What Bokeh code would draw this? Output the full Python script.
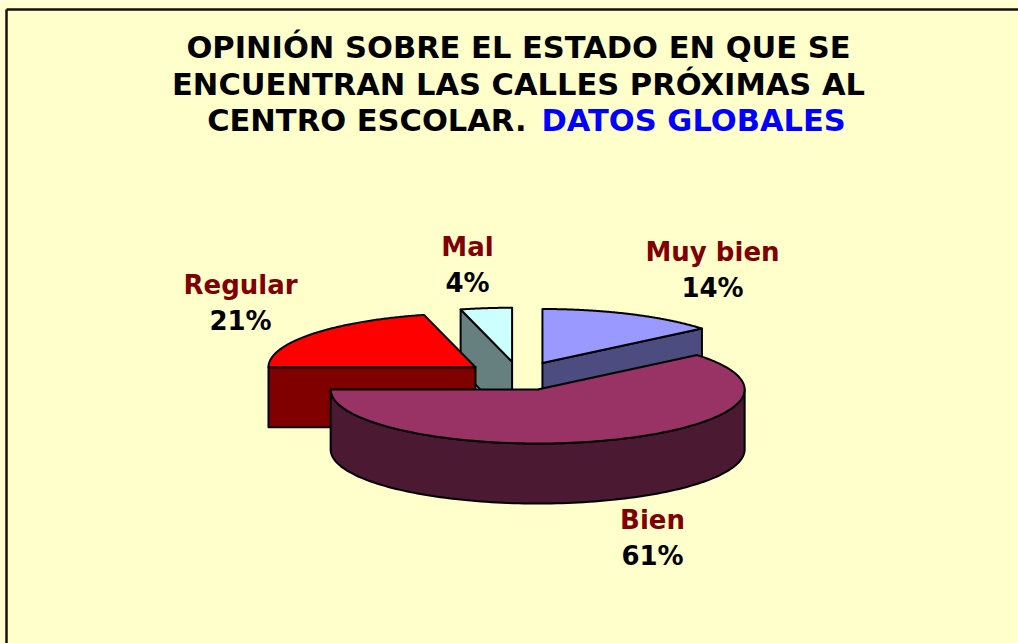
import numpy as np
from bokeh.plotting import figure
from bokeh.models import Range1d, ColumnDataSource
from bokeh.embed import file_html
from bokeh.resources import INLINE
from bokeh.core.properties import value

# ---------------- data ----------------
categories = ["Muy bien", "Bien", "Regular", "Mal"]
values = [14, 61, 21, 4]
title_lines = ["OPINIÓN SOBRE EL ESTADO EN QUE SE",
               "ENCUENTRAN LAS CALLES PRÓXIMAS AL",
               "CENTRO ESCOLAR."]
title_highlight = "DATOS GLOBALES"

# ---------------- styles / layout ----------------
top_colors = ["#9999FF", "#993366", "#FF0000", "#CCFFFF"]
side_colors = ["#4C4C80", "#4C1933", "#800000", "#668080"]
BG = "#FFFFCC"
FONT = "DejaVu Sans"

W, H = 1018, 643
CX, CY = 518.5, 375.5      # pie centre (px)
RX, RY = 207.0, 54.0       # projected radii
DEPTH = 60.0               # thickness
EXPLODE = 0.266            # explosion as a fraction of radius
START_DEG = 90.0           # first slice starts at 12 o'clock, clockwise
TEXT_DY = -11              # baseline correction for rendered text

# label anchors (centre x, baseline of name line) in px
label_pos = {"Muy bien": (712, 262), "Bien": (652, 530),
             "Regular": (240, 295), "Mal": (467, 257)}
LINE_GAP = 36

p = figure(width=W, height=H, output_backend="svg", toolbar_location=None,
           x_range=Range1d(0, W), y_range=Range1d(H, 0),
           x_axis_type=None, y_axis_type=None, min_border=0,
           background_fill_color=BG, border_fill_color=BG)
p.grid.visible = False
p.outline_line_color = None

# chart-area border (top and left visible in window)
p.segment(x0=[6, 6], y0=[9, 9], x1=[6, W + 5], y1=[H + 5, 9],
          line_color="#111111", line_width=2.5)

# ---------------- 3D pie geometry ----------------
total = float(sum(values))
fracs = [v / total for v in values]
cum = np.concatenate([[0.0], np.cumsum(fracs)])

slices = []
for i, cat in enumerate(categories):
    a_hi = np.radians(START_DEG - 360.0 * cum[i])
    a_lo = np.radians(START_DEG - 360.0 * cum[i + 1])
    mid = 0.5 * (a_lo + a_hi)
    ax = CX + EXPLODE * RX * np.cos(mid)
    ay = CY - EXPLODE * RY * np.sin(mid)
    slices.append(dict(i=i, a_lo=a_lo, a_hi=a_hi, mid=mid, ax=ax, ay=ay))


def rim(s, angs, z):
    return (s["ax"] + RX * np.cos(angs), s["ay"] - RY * np.sin(angs) + z)


xs, ys, fills = [], [], []
for s in sorted(slices, key=lambda s: -np.sin(s["mid"])):
    i = s["i"]
    # radial cut faces
    for a, vis in ((s["a_lo"], np.cos(s["a_lo"]) > 1e-9),
                   (s["a_hi"], np.cos(s["a_hi"]) < -1e-9)):
        if vis:
            rx, ry = rim(s, np.array([a]), 0.0)
            xs.append([s["ax"], rx[0], rx[0], s["ax"]])
            ys.append([s["ay"], ry[0], ry[0] + DEPTH, s["ay"] + DEPTH])
            fills.append(side_colors[i])
    # curved outer side (front half only)
    for k in range(-2, 3):
        lo = max(s["a_lo"], -np.pi + 2 * np.pi * k)
        hi = min(s["a_hi"], 0.0 + 2 * np.pi * k)
        if hi - lo > 1e-6:
            angs = np.linspace(lo, hi, 120)
            tx, ty = rim(s, angs, 0.0)
            bx, by = rim(s, angs[::-1], DEPTH)
            xs.append(list(tx) + list(bx))
            ys.append(list(ty) + list(by))
            fills.append(side_colors[i])
    # top face
    angs = np.linspace(s["a_lo"], s["a_hi"], 160)
    tx, ty = rim(s, angs, 0.0)
    xs.append([s["ax"]] + list(tx))
    ys.append([s["ay"]] + list(ty))
    fills.append(top_colors[i])

p.patches(xs="xs", ys="ys", fill_color="fill",
          source=ColumnDataSource(dict(xs=xs, ys=ys, fill=fills)),
          line_color="black", line_width=2, line_join="round")

# ---------------- labels ----------------
pcts = [f"{round(100 * v / total)}%" for v in values]
lx = [label_pos[c][0] for c in categories]
ly = [label_pos[c][1] + TEXT_DY for c in categories]
p.text(x=lx, y=ly, text=categories, text_color="#800000",
       text_font=value(FONT), text_font_style="bold", text_font_size="26px",
       text_align="center", text_baseline="alphabetic")
p.text(x=lx, y=[v + LINE_GAP for v in ly], text=pcts, text_color="black",
       text_font=value(FONT), text_font_style="bold", text_font_size="26px",
       text_align="center", text_baseline="alphabetic")

# ---------------- title ----------------
TX = 518
TY = [58 + TEXT_DY, 95 + TEXT_DY, 131 + TEXT_DY]
TFS = "30.5px"
p.text(x=[TX, TX], y=TY[:2], text=title_lines[:2], text_color="black",
       text_font=value(FONT), text_font_style="bold", text_font_size=TFS,
       text_align="center", text_baseline="alphabetic")
p.text(x=[526], y=[TY[2]], text=[title_lines[2]], text_color="black",
       text_font=value(FONT), text_font_style="bold", text_font_size=TFS,
       text_align="right", text_baseline="alphabetic")
p.text(x=[541], y=[TY[2]], text=[title_highlight], text_color="#0000FF",
       text_font=value(FONT), text_font_style="bold", text_font_size=TFS,
       text_align="left", text_baseline="alphabetic")

open("out.html", "w").write(file_html(p, INLINE))
